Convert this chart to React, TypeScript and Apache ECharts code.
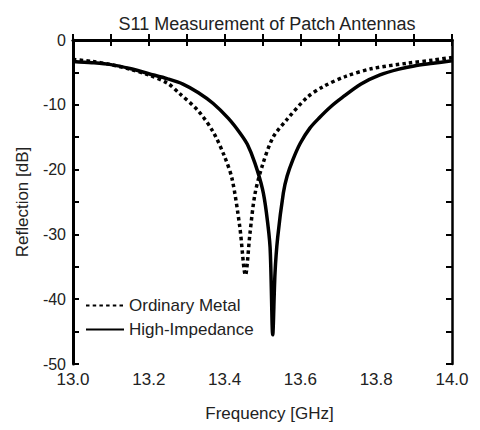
import React, { useEffect, useRef } from "react";
import * as echarts from "echarts";

const titleText = "S11 Measurement of Patch Antennas";
const xName = "Frequency [GHz]";
const yName = "Reflection [dB]";
const seriesNames = ["Ordinary Metal", "High-Impedance"];

const xTickLabels = ["13.0", "13.2", "13.4", "13.6", "13.8", "14.0"];
const yTickLabels = ["0", "-10", "-20", "-30", "-40", "-50"];

// Ordinary Metal (dotted)
const freqOrdinary = [
  13.0, 13.05, 13.1, 13.15, 13.2, 13.25, 13.28, 13.33, 13.37, 13.4, 13.42,
  13.44, 13.455, 13.467, 13.48, 13.5, 13.528, 13.564, 13.617, 13.66, 13.72,
  13.79, 13.88, 13.95, 14.0,
];
const dbOrdinary = [
  -3.0, -3.3, -3.8, -4.5, -5.4, -6.7, -8.2, -10.9, -14.2, -18.0, -21.5,
  -28.8, -36.3, -29.8, -23.8, -19.3, -15.0, -12.3, -8.9, -7.2, -5.6,
  -4.4, -3.6, -3.1, -2.7,
];

// High-Impedance (solid)
const freqHigh = [
  13.0, 13.05, 13.1, 13.15, 13.2, 13.25, 13.29, 13.33, 13.37, 13.41, 13.44,
  13.46, 13.48, 13.5, 13.51, 13.52, 13.527, 13.533, 13.54, 13.555, 13.565,
  13.58, 13.6, 13.625, 13.65, 13.68, 13.71, 13.76, 13.81, 13.86, 13.9,
  13.95, 14.0,
];
const dbHigh = [
  -3.3, -3.5, -3.8, -4.4, -5.2, -6.0, -6.8, -8.1, -9.8, -12.1, -14.3,
  -16.1, -19.0, -23.0, -26.5, -32.0, -45.5, -36.0, -30.5, -23.6, -21.0,
  -18.5, -15.9, -13.6, -12.0, -10.3, -8.9, -6.8, -5.4, -4.5, -4.0,
  -3.6, -3.2,
];

const FONT = "'Liberation Sans', Arial, sans-serif";
const TEXT = "#222";

export default function App() {
  const ref = useRef<HTMLDivElement>(null);
  useEffect(() => {
    if (!ref.current) return;
    const chart = echarts.init(ref.current, undefined, { renderer: "svg" });
    const xFmt = (v: number) => {
      const s = v.toFixed(1);
      return xTickLabels.includes(s) ? s : "";
    };
    const yFmt = (v: number) => {
      const s = String(Math.round(v));
      return yTickLabels.includes(s) ? s : "";
    };
    const axisLine = { show: true, lineStyle: { color: "#000", width: 3 } };
    const tick = { show: true, inside: true, length: 6, lineStyle: { color: "#000", width: 2 } };
    chart.setOption({
      animation: false,
      backgroundColor: "#fff",
      textStyle: { fontFamily: FONT },
      title: {
        text: titleText,
        left: 262,
        textAlign: "center",
        top: 10,
        textStyle: { fontFamily: FONT, fontSize: 18, fontWeight: "normal", color: TEXT },
      },
      legend: {
        data: seriesNames,
        orient: "vertical",
        left: 80,
        top: 292,
        itemWidth: 38,
        itemHeight: 14,
        itemGap: 7,
        itemStyle: { opacity: 0 },
        textStyle: { fontFamily: FONT, fontSize: 17, color: TEXT },
      },
      grid: { left: 73, right: 28, top: 40, bottom: 66 },
      xAxis: [
        {
          type: "value",
          min: 13,
          max: 14,
          interval: 0.1,
          position: "bottom",
          name: xName,
          nameLocation: "middle",
          nameGap: 41,
          nameTextStyle: { fontFamily: FONT, fontSize: 17, color: TEXT, padding: [0, 0, 0, 14] },
          axisLine,
          axisTick: tick,
          splitLine: { show: false },
          axisLabel: { formatter: xFmt, fontFamily: FONT, fontSize: 17, color: TEXT, margin: 7 },
        },
        {
          type: "value",
          min: 13,
          max: 14,
          interval: 0.1,
          position: "top",
          axisLine: { show: true, lineStyle: { color: "#000", width: 2.5 } },
          axisTick: tick,
          splitLine: { show: false },
          axisLabel: { show: false },
        },
      ],
      yAxis: [
        {
          type: "value",
          min: -50,
          max: 0,
          interval: 5,
          position: "left",
          name: yName,
          nameLocation: "middle",
          nameGap: 42,
          nameTextStyle: { fontFamily: FONT, fontSize: 17, color: TEXT },
          axisLine,
          axisTick: tick,
          splitLine: { show: false },
          axisLabel: { formatter: yFmt, fontFamily: FONT, fontSize: 16, color: TEXT, margin: 7 },
        },
        {
          type: "value",
          min: -50,
          max: 0,
          interval: 5,
          position: "right",
          axisLine: { show: true, lineStyle: { color: "#000", width: 2.5 } },
          axisTick: tick,
          splitLine: { show: false },
          axisLabel: { show: false },
        },
      ],
      series: [
        {
          name: seriesNames[0],
          type: "line",
          showSymbol: false,
          symbol: "none",
          smooth: 0.3,
          data: freqOrdinary.map((f, i) => [f, dbOrdinary[i]]),
          lineStyle: { color: "#000", width: 3.5, type: [3.5, 3.2] },
          itemStyle: { color: "#000" },
        },
        {
          name: seriesNames[1],
          type: "line",
          showSymbol: false,
          symbol: "none",
          smooth: 0.3,
          data: freqHigh.map((f, i) => [f, dbHigh[i]]),
          lineStyle: { color: "#000", width: 3.5, type: "solid" },
          itemStyle: { color: "#000" },
        },
      ],
    });
    return () => chart.dispose();
  }, []);
  return (
    <div
      ref={ref}
      style={{ position: "fixed", left: 0, top: 0, width: 480, height: 430, background: "#fff" }}
    />
  );
}
